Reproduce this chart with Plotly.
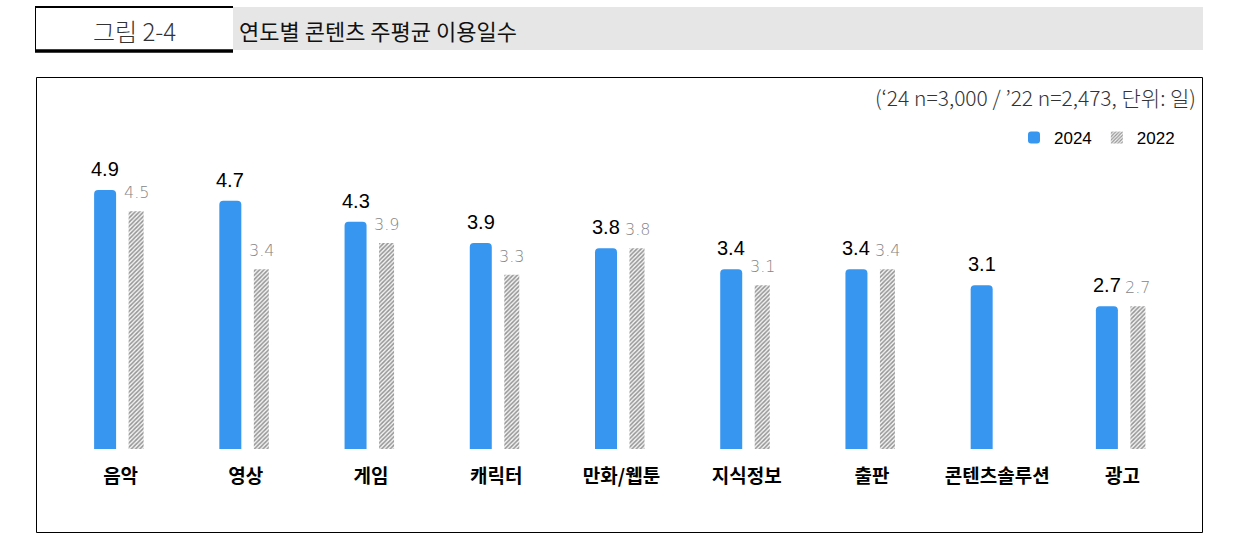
import plotly.graph_objects as go

categories = ["음악", "영상", "게임", "캐릭터", "만화/웹툰", "지식정보", "출판", "콘텐츠솔루션", "광고"]
values_2024 = [4.9, 4.7, 4.3, 3.9, 3.8, 3.4, 3.4, 3.1, 2.7]
values_2022 = [4.5, 3.4, 3.9, 3.3, 3.8, 3.1, 3.4, None, 2.7]
series_names = ["2024", "2022"]
fig_label = "그림 2-4"
title_text = "연도별 콘텐츠 주평균 이용일수"
note_text = "(‘24 n=3,000 / ’22 n=2,473, 단위: 일)"

W, H = 1238, 542
ML, MR, MT, MB = 58, 53, 132, 93
PW = W - ML - MR
PH = H - MT - MB
CAT_PX = PW / len(categories)

def px_x(px):
    return (px - ML) / PW

def px_y(py):
    return (H - MB - py) / PH

blue = "#3797F0"
b_w, b_c = 22, -15.5
g_w, g_c = 15, 15.5

fig = go.Figure()
fig.add_trace(go.Bar(
    x=categories, y=values_2024, name=series_names[0],
    width=b_w / CAT_PX, offset=(b_c - b_w / 2) / CAT_PX,
    marker=dict(color=blue, cornerradius=4, line=dict(width=0)),
))
fig.add_trace(go.Bar(
    x=categories, y=values_2022, name=series_names[1],
    width=g_w / CAT_PX, offset=(g_c - g_w / 2) / CAT_PX,
    marker=dict(color="white", line=dict(width=0),
                pattern=dict(shape="/", fgcolor="#333333", bgcolor="#f4f4f4", size=3, solidity=0.5)),
))

annotations = []
for c, v in zip(categories, values_2024):
    annotations.append(dict(x=c, y=v, xref="x", yref="y", text=f"{v:.1f}", showarrow=False,
                            xshift=b_c, yshift=8, yanchor="bottom",
                            font=dict(family="Liberation Sans", size=20, color="#000")))
for c, v in zip(categories, values_2022):
    if v is None:
        continue
    annotations.append(dict(x=c, y=v, xref="x", yref="y", text=f"{v:.1f}", showarrow=False,
                            xshift=g_c, yshift=7, yanchor="bottom",
                            font=dict(family="DejaVu Sans", size=16, color="#858585", weight=300)))

# header texts
annotations.append(dict(x=px_x(134), y=px_y(30), xref="paper", yref="paper", text=fig_label,
                        showarrow=False, xanchor="center", yanchor="middle",
                        font=dict(family="Noto Sans CJK KR", size=24, color="#333", weight=300)))
annotations.append(dict(x=px_x(237), y=px_y(30), xref="paper", yref="paper", text=title_text,
                        showarrow=False, xanchor="left", yanchor="middle",
                        font=dict(family="Noto Sans CJK KR", size=22, color="#111")))
annotations.append(dict(x=px_x(1198), y=px_y(97), xref="paper", yref="paper", text=note_text,
                        showarrow=False, xanchor="right", yanchor="middle",
                        font=dict(family="Noto Sans CJK KR", size=21, color="#333", weight=300)))

shapes = [
    # gray title band
    dict(type="rect", xref="paper", yref="paper", x0=px_x(233), x1=px_x(1203), y0=px_y(50), y1=px_y(7),
         fillcolor="#e6e6e6", line=dict(width=0), layer="below"),
    # header box lines
    dict(type="line", xref="paper", yref="paper", x0=px_x(35), x1=px_x(233), y0=px_y(7), y1=px_y(7),
         line=dict(color="black", width=2)),
    dict(type="line", xref="paper", yref="paper", x0=px_x(35), x1=px_x(233), y0=px_y(51), y1=px_y(51),
         line=dict(color="black", width=3.5)),
    dict(type="line", xref="paper", yref="paper", x0=px_x(35.5), x1=px_x(35.5), y0=px_y(7), y1=px_y(51),
         line=dict(color="black", width=1)),
    # chart frame
    dict(type="rect", xref="paper", yref="paper", x0=px_x(36.5), x1=px_x(1202.5), y0=px_y(532.5), y1=px_y(77.5),
         line=dict(color="black", width=1), fillcolor="rgba(0,0,0,0)"),
]

fig.update_layout(
    width=W, height=H,
    margin=dict(l=ML, r=MR, t=MT, b=MB),
    paper_bgcolor="white", plot_bgcolor="white",
    barmode="overlay",
    showlegend=True,
    legend=dict(orientation="h", x=px_x(1180), xanchor="right", y=px_y(138), yanchor="middle",
                font=dict(family="Liberation Sans", size=17, color="#000"),
                itemwidth=30, tracegroupgap=0, bgcolor="rgba(0,0,0,0)"),
    xaxis=dict(showgrid=False, showline=False, zeroline=False, ticks="",
               tickfont=dict(family="Noto Sans CJK KR", size=19, color="#000", weight="bold"),
               ticklabelstandoff=14),
    yaxis=dict(range=[0, 6], visible=False, showgrid=False, zeroline=False),
    annotations=annotations,
    shapes=shapes,
)

fig.write_html("out.html")
